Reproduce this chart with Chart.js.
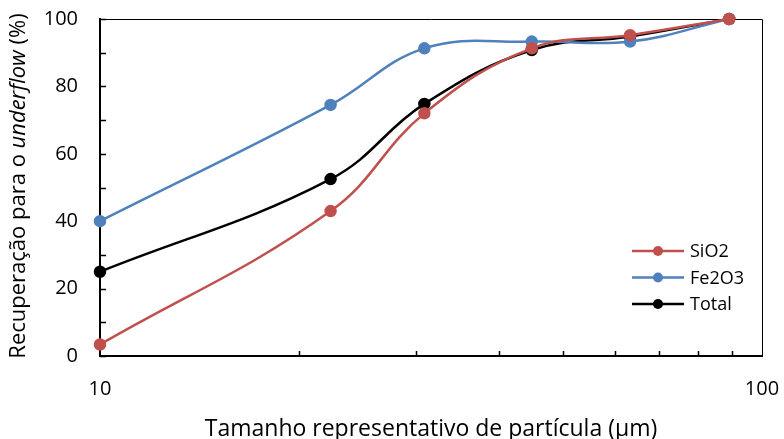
<!DOCTYPE html>
<html>
<head>
<meta charset="utf-8">
<script src="https://cdn.jsdelivr.net/npm/chart.js@4"></script>
<style>
  html, body { margin: 0; padding: 0; background: #fff; }
  #wrap { width: 784px; height: 439px; }
</style>
</head>
<body>
<div id="wrap"><canvas id="recup" width="784" height="439"></canvas></div>
<script>
// particle size (um) and recovery to underflow (%)
const sizes = [10, 22.3, 30.9, 44.9, 63.2, 89.2];
const sio2 = [3.4, 43, 72, 91.3, 95.2, 100];
const fe2o3 = [40, 74.5, 91.3, 93.3, 93.3, 100];
const total = [25, 52.5, 74.8, 90.8, 94.8, 100];
const xTickLabels = [10, 100];
const xMinorTicks = [20, 30, 40, 50, 60, 70, 80, 90];
const yMinorTicks = [0, 10, 20, 30, 40, 50, 60, 70, 80, 90, 100];

const FONT = '"Open Sans", Lato, sans-serif';

const toPoints = vals => sizes.map((x, i) => ({ x: x, y: vals[i] }));

const series = (label, vals, color) => ({
    label: label,
    data: toPoints(vals),
    borderColor: color,
    backgroundColor: color,
    borderWidth: 2.5,
    pointRadius: 5,
    pointHoverRadius: 5,
    tension: 0.4,
    clip: false
});

// frame, inner tick marks, x tick labels, y title and legend drawn by hand
const decorations = {
    id: 'decorations',
    beforeDatasetsDraw(chart) {
        const { ctx, chartArea: a, scales } = chart;
        ctx.save();
        ctx.strokeStyle = '#000';
        ctx.lineWidth = 1;
        ctx.beginPath();
        ctx.moveTo(a.left, a.top + 0.5);
        ctx.lineTo(a.right + 0.5, a.top + 0.5);
        ctx.lineTo(a.right + 0.5, a.bottom);
        ctx.stroke();

        ctx.lineWidth = 1.5;
        ctx.beginPath();
        yMinorTicks.forEach(v => {
            const y = Math.round(scales.y.getPixelForValue(v)) + 0.5;
            ctx.moveTo(a.left, y);
            ctx.lineTo(a.left + 6, y);
        });
        xMinorTicks.forEach(v => {
            const x = Math.round(scales.x.getPixelForValue(v)) + 0.5;
            ctx.moveTo(x, a.bottom);
            ctx.lineTo(x, a.bottom - 5);
        });
        ctx.stroke();

        ctx.fillStyle = '#000';
        ctx.font = '20px ' + FONT;
        ctx.textAlign = 'center';
        ctx.textBaseline = 'middle';
        xTickLabels.forEach(v => {
            ctx.fillText(String(v), scales.x.getPixelForValue(v), a.bottom + 33);
        });
        ctx.restore();
    },
    afterDraw(chart) {
        const { ctx, chartArea: a } = chart;
        ctx.save();

        // y axis title with italic part
        const parts = [
            ['Recuperação para o ', 'normal'],
            ['underflow', 'italic'],
            [' (%)', 'normal']
        ];
        const size = 22;
        let total = 0;
        parts.forEach(p => {
            ctx.font = p[1] + ' ' + size + 'px ' + FONT;
            p.push(ctx.measureText(p[0]).width);
            total += p[2];
        });
        ctx.translate(19, 186);
        ctx.rotate(-Math.PI / 2);
        ctx.fillStyle = '#000';
        ctx.textBaseline = 'middle';
        let x = -total / 2;
        parts.forEach(p => {
            ctx.font = p[1] + ' ' + size + 'px ' + FONT;
            ctx.fillText(p[0], x, 0);
            x += p[2];
        });
        ctx.setTransform(1, 0, 0, 1, 0, 0);

        // legend
        const lx = 632, ly = 251, step = 26.5;
        ctx.font = '18px ' + FONT;
        ctx.textBaseline = 'middle';
        chart.data.datasets.forEach((ds, i) => {
            const y = ly + i * step;
            ctx.strokeStyle = ds.borderColor;
            ctx.fillStyle = ds.borderColor;
            ctx.lineWidth = 2.5;
            ctx.beginPath();
            ctx.moveTo(lx, y);
            ctx.lineTo(lx + 52, y);
            ctx.stroke();
            ctx.beginPath();
            ctx.arc(lx + 26, y, 5, 0, Math.PI * 2);
            ctx.fill();
            ctx.fillStyle = '#000';
            ctx.fillText(ds.label, lx + 58, y + 1);
        });
        ctx.restore();
    }
};

const ctx = document.querySelector('#recup');
const recupChart = new Chart(ctx, {
    type: 'line',
    data: {
        datasets: [
            series('SiO2', sio2, '#C0504D'),
            series('Fe2O3', fe2o3, '#4F81BD'),
            series('Total', total, '#000000')
        ]
    },
    options: {
        responsive: false,
        animation: false,
        layout: { padding: { top: 19, right: 22, left: 0, bottom: 0 } },
        plugins: {
            legend: { display: false },
            tooltip: { enabled: false }
        },
        scales: {
            x: {
                type: 'logarithmic',
                min: 10,
                max: 100,
                afterFit: scale => {
                    scale.height = 83;
                    scale.paddingLeft = 0;
                    scale.paddingRight = 0;
                },
                grid: { display: false, drawTicks: false },
                border: { display: true, color: '#000', width: 2 },
                ticks: {
                    autoSkip: false,
                    maxRotation: 0,
                    callback: () => ''
                },
                title: {
                    display: true,
                    text: 'Tamanho representativo de partícula (µm)',
                    color: '#000',
                    font: { family: FONT, size: 23 },
                    padding: { top: 0, bottom: -4 }
                }
            },
            y: {
                min: 0,
                max: 100,
                afterFit: scale => {
                    scale.width = 100;
                    scale.paddingTop = 0;
                    scale.paddingBottom = 0;
                },
                grid: { display: false, drawTicks: false },
                border: { display: true, color: '#000', width: 2 },
                ticks: {
                    stepSize: 20,
                    padding: 22,
                    color: '#000',
                    font: { family: FONT, size: 20 }
                }
            }
        }
    },
    plugins: [decorations]
});
</script>
</body>
</html>
